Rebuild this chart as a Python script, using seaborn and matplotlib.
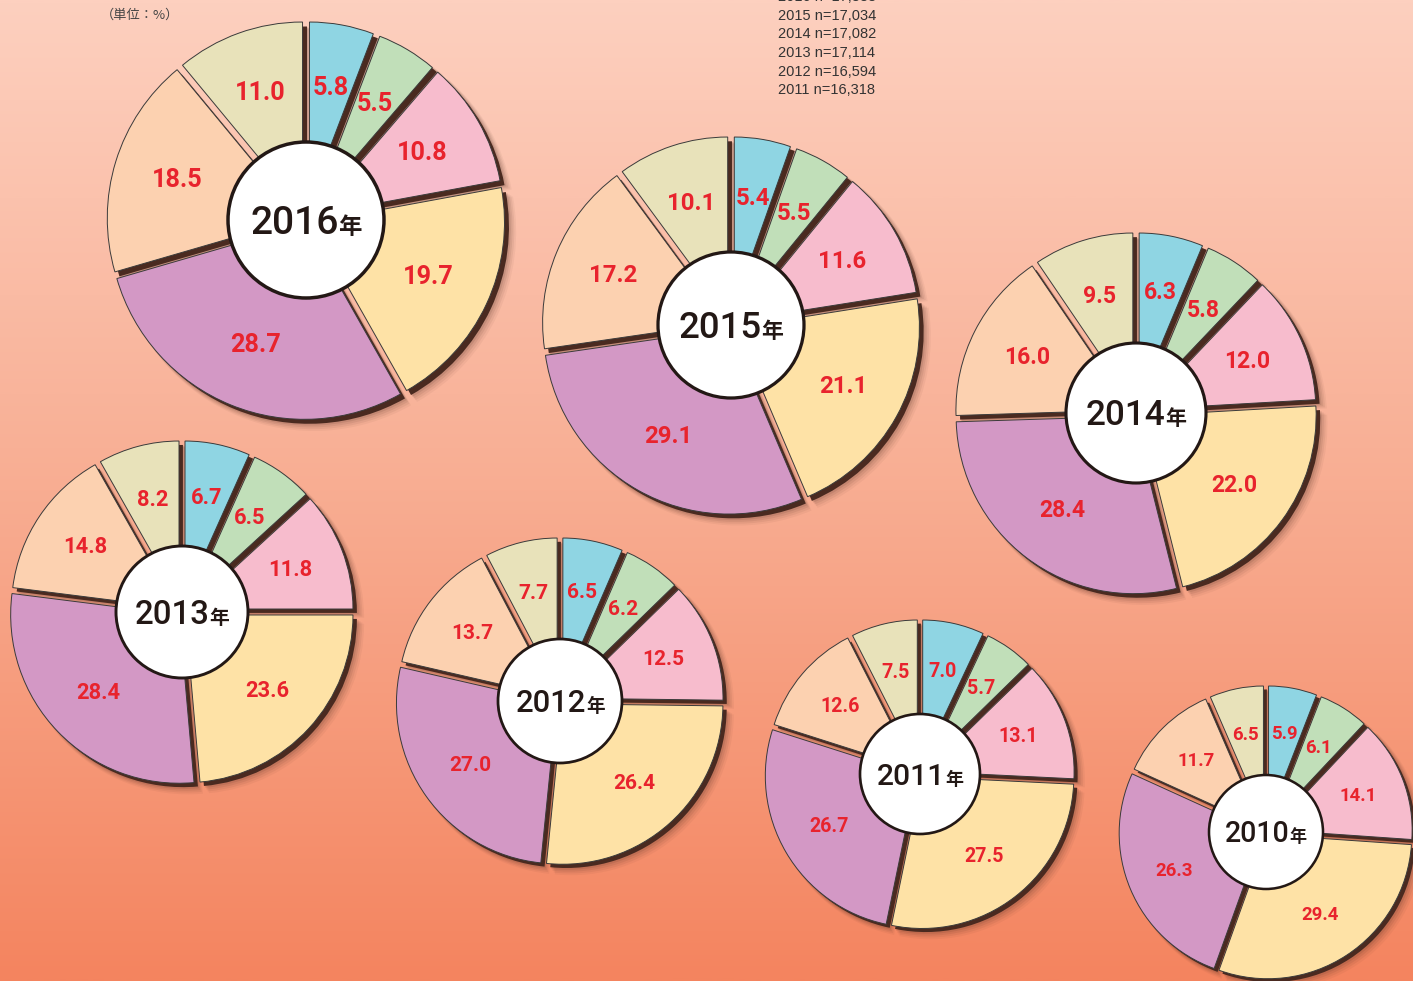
import numpy as np
import matplotlib
matplotlib.use("Agg")
import matplotlib.pyplot as plt
import seaborn as sns
from matplotlib.colors import LinearSegmentedColormap
from matplotlib.patches import Circle

sns.set_theme(style="white")
plt.rcParams["font.family"] = ["Roboto", "Noto Sans CJK JP", "DejaVu Sans"]

# ---------------- data ----------------
years = ["2016", "2015", "2014", "2013", "2012", "2011", "2010"]
v2016 = [5.8, 5.5, 10.8, 19.7, 28.7, 18.5, 11.0]
v2015 = [5.4, 5.5, 11.6, 21.1, 29.1, 17.2, 10.1]
v2014 = [6.3, 5.8, 12.0, 22.0, 28.4, 16.0, 9.5]
v2013 = [6.7, 6.5, 11.8, 23.6, 28.4, 14.8, 8.2]
v2012 = [6.5, 6.2, 12.5, 26.4, 27.0, 13.7, 7.7]
v2011 = [7.0, 5.7, 13.1, 27.5, 26.7, 12.6, 7.5]
v2010 = [5.9, 6.1, 14.1, 29.4, 26.3, 11.7, 6.5]
values = [v2016, v2015, v2014, v2013, v2012, v2011, v2010]

sample_lines = ["2016 n=17,388", "2015 n=17,034", "2014 n=17,082",
                "2013 n=17,114", "2012 n=16,594", "2011 n=16,318"]
unit_label = "（単位：%）"

# ---------------- layout / style ----------------
W, H = 1413, 981
centers_x = [306, 731, 1136, 182, 560, 920, 1266]
centers_y = [220, 325, 413, 612, 701, 774, 832]      # pixel rows (from top)
radii = [198, 188, 180, 171, 163, 154, 146]
inner_radii = [78, 73, 70, 66, 62, 60, 57]

colors = sns.color_palette(["#8fd5e3", "#c1dfb9", "#f7bccd", "#fee2a6",
                            "#d398c5", "#fcd1b0", "#e8e2ba"])
label_red = "#e8232d"
shadow_col = "#4a2a20"
edge_col = "#3a3a3a"
ink = "#231815"

fig = plt.figure(figsize=(W / 100, H / 100), dpi=100)

# background gradient
bg = fig.add_axes([0, 0, 1, 1], zorder=0)
cmap = LinearSegmentedColormap.from_list("bg", ["#fdd0bf", "#f8ad92", "#f4845f"])
grad = np.linspace(0, 1, 512).reshape(-1, 1)
bg.imshow(grad, aspect="auto", cmap=cmap, extent=[0, W, 0, H], origin="upper")
bg.set_xlim(0, W)
bg.set_ylim(0, H)
bg.axis("off")

ax = fig.add_axes([0, 0, 1, 1], zorder=1)
ax.patch.set_alpha(0)


def adjust(wedges, gap, dx=0.0, dy=0.0, grow=0.0):
    """Turn pie wedges into separated segments with constant-width gaps."""
    for w in wedges:
        t1, t2 = np.deg2rad(w.theta1), np.deg2rad(w.theta2)
        half = (t2 - t1) / 2
        mid = (t1 + t2) / 2
        cx, cy = w.center
        r = w.r + grow
        d = (gap / 2) / max(np.sin(half), 1e-3) if half < np.pi / 2 else 0.0
        rp = -d * np.cos(half) + np.sqrt(max(r ** 2 - (gap / 2) ** 2, 1))
        w.set_center((cx + d * np.cos(mid) + dx, cy + d * np.sin(mid) + dy))
        w.set_radius(rp)


for year, vals, cx, cyp, r, ri in zip(years, values, centers_x, centers_y,
                                      radii, inner_radii):
    cy = H - cyp
    gap = 0.035 * r
    off = 0.02 * r + 0.5

    # soft outer shadow
    for k, a in zip(range(4, 0, -1), [0.05, 0.07, 0.09, 0.12]):
        sw, _ = ax.pie(vals, startangle=90, counterclock=False, center=(cx, cy),
                       radius=r, colors=[shadow_col] * len(vals),
                       wedgeprops=dict(linewidth=0, alpha=a, zorder=1))
        adjust(sw, gap, dx=off + 1.2 * k, dy=-(off + 1.2 * k), grow=0.6 * k)

    # hard shadow
    sw, _ = ax.pie(vals, startangle=90, counterclock=False, center=(cx, cy),
                   radius=r, colors=[shadow_col] * len(vals),
                   wedgeprops=dict(linewidth=0, zorder=2))
    adjust(sw, gap, dx=off, dy=-off)

    # main wedges with value labels
    it = iter(vals)
    wedges, _, autotexts = ax.pie(
        vals, startangle=90, counterclock=False, center=(cx, cy), radius=r,
        colors=colors, autopct=lambda p: f"{next(it):.1f}", pctdistance=0.68,
        wedgeprops=dict(linewidth=0.7, edgecolor=edge_col, zorder=3),
        textprops=dict(color=label_red, fontsize=0.092 * r, fontweight="bold",
                       zorder=6))
    adjust(wedges, gap)

    # centre disc
    ax.add_patch(Circle((cx, cy), ri, facecolor="white", edgecolor=ink,
                        linewidth=0.032 * ri, zorder=5))

    # year label
    fs = 0.36 * ri
    base = cy - 0.5 * 0.71 * fs * 100 / 72
    t1 = ax.text(cx, base, year, fontsize=fs, fontweight="medium", color=ink,
                 ha="left", va="baseline", zorder=7)
    t2 = ax.text(cx, base, "年", fontsize=fs * 0.6, fontweight="bold",
                 family=["Noto Sans CJK JP"], color=ink, ha="left",
                 va="baseline", zorder=7)
    fig.canvas.draw()
    rend = fig.canvas.get_renderer()
    w1 = t1.get_window_extent(rend).width
    w2 = t2.get_window_extent(rend).width
    x0 = cx - (w1 + w2) / 2
    t1.set_x(x0)
    t2.set_x(x0 + w1)

ax.set_xlim(0, W)
ax.set_ylim(0, H)
ax.set_aspect("auto")
ax.axis("off")

# unit note and sample sizes
ax.text(101, H - 15, unit_label, fontsize=9.5, color="#444444",
        family=["Noto Sans CJK JP"], ha="left", va="center")
for i, s in enumerate(sample_lines):
    ax.text(778, H - (-3 + 18.7 * i), s, fontsize=10.5, color="#333333",
            family=["Liberation Sans"], ha="left", va="center")

fig.savefig("out.png", dpi=100)
